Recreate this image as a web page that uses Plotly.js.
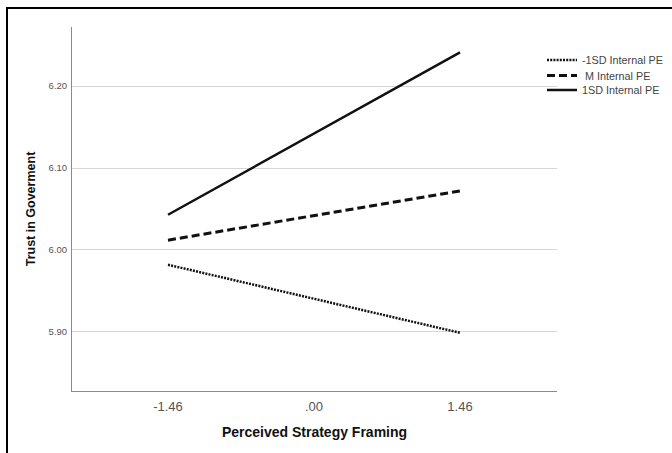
<!DOCTYPE html>
<html><head><meta charset="utf-8">
<script src="https://cdn.plot.ly/plotly-3.0.1.min.js"></script>
<style>html,body{margin:0;padding:0;background:#fff;overflow:hidden}</style>
</head><body>
<div id="chart" style="width:672px;height:453px"></div>
<script>
const xValues = [-1.46, 1.46];
const xTickVals = [-1.46, 0, 1.46];
const xTickText = ["-1.46", ".00", "1.46"];
const yTickVals = [5.9, 6.0, 6.1, 6.2];
const yTickText = ["5.90", "6.00", "6.10", "6.20"];
const seriesNames = ["-1SD Internal PE", " M Internal PE", "1SD Internal PE"];
const lowPE = [5.982, 5.899];
const meanPE = [6.012, 6.072];
const highPE = [6.043, 6.241];

const W = 672, H = 453, L = 72, R = 115, T = 27, B = 62;
const pw = W - L - R, ph = H - T - B;

const traces = [
  {x: xValues, y: lowPE, name: seriesNames[0], legend: 'legend', mode: 'lines', line: {color: '#111', width: 2.5, dash: '2px,1.2px'}},
  {x: xValues, y: meanPE, name: seriesNames[1], legend: 'legend2', mode: 'lines', line: {color: '#111', width: 3, dash: '8px,4px'}},
  {x: xValues, y: highPE, name: seriesNames[2], legend: 'legend3', mode: 'lines', line: {color: '#111', width: 2.5}}
];

const legBase = {xref: 'container', yref: 'container', x: 542 / W, xanchor: 'left', yanchor: 'middle',
                 font: {size: 10.8, color: '#444'}, bgcolor: 'rgba(0,0,0,0)', itemwidth: 30};
const legY = c => 1 - c / H;

const layout = {
  width: W, height: H,
  margin: {l: L, r: R, t: T, b: B, autoexpand: false},
  paper_bgcolor: '#fff', plot_bgcolor: '#fff',
  font: {family: 'Arial, "Liberation Sans", sans-serif', color: '#444'},
  showlegend: true,
  legend: Object.assign({}, legBase, {y: legY(60)}),
  legend2: Object.assign({}, legBase, {y: legY(75.5)}),
  legend3: Object.assign({}, legBase, {y: legY(90)}),
  xaxis: {range: [-2.42, 2.43], tickvals: xTickVals, ticktext: xTickText,
          showgrid: false, zeroline: false, showline: true, linecolor: '#8a8a8a', linewidth: 1,
          ticks: '', ticklabelstandoff: 3, tickfont: {size: 13, color: '#555'},
          title: {text: 'Perceived Strategy Framing', font: {size: 14, color: '#111', weight: 'bold'}, standoff: 14}},
  yaxis: {range: [5.828, 6.272], tickvals: yTickVals, ticktext: yTickText,
          showgrid: true, gridcolor: '#d6d6d6', gridwidth: 1, zeroline: false,
          showline: true, linecolor: '#8a8a8a', linewidth: 1, ticks: '',
          ticklabelstandoff: 2, tickfont: {size: 9.5, color: '#555'},
          title: {text: 'Trust in Goverment', font: {size: 12.5, color: '#111', weight: 'bold'}, standoff: 10}},
  shapes: [{type: 'rect', xref: 'paper', yref: 'paper',
            x0: (7 - L) / pw, x1: 1.5, y0: -0.5, y1: 1 + (T - 8) / ph,
            line: {color: '#000', width: 2}, fillcolor: 'rgba(0,0,0,0)', layer: 'above'}]
};

Plotly.newPlot('chart', traces, layout, {displayModeBar: false, staticPlot: true});
</script>
</body></html>
